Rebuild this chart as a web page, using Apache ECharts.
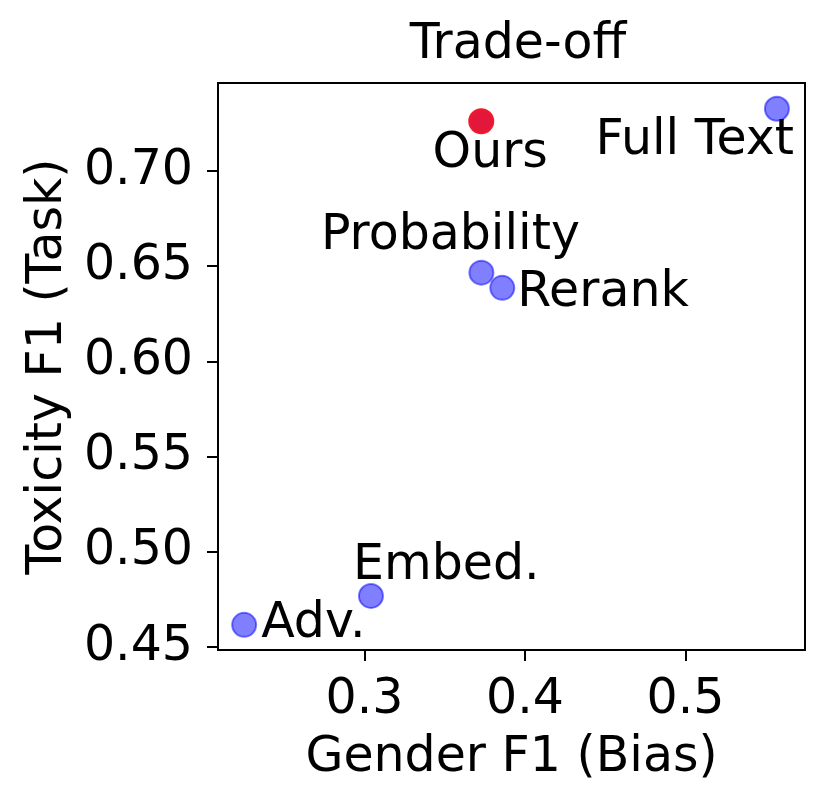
<!DOCTYPE html>
<html>
<head>
<meta charset="utf-8">
<script src="https://cdn.jsdelivr.net/npm/echarts@6/dist/echarts.min.js"></script>
<style>
  html, body { margin: 0; padding: 0; background: #fff; }
  #chart { width: 829px; height: 810px; }
</style>
</head>
<body>
<div id="chart"></div>
<script>
// values
var methods = ["Ours", "Full Text", "Probability", "Rerank", "Embed.", "Adv."];
var genderF1 = [0.3727, 0.5569, 0.3728, 0.3858, 0.3040, 0.2250];
var toxicityF1 = [0.7261, 0.7327, 0.6466, 0.6386, 0.4768, 0.4616];
var xTicks = [0.3, 0.4, 0.5];
var yTicks = [0.45, 0.50, 0.55, 0.60, 0.65, 0.70];

// where each annotation sits relative to its point
var labelPlace = {
  "Ours": { align: "center", offset: [9, 33] },
  "Full Text": { align: "right", offset: [17, 33] },
  "Probability": { align: "center", offset: [-31, -36] },
  "Rerank": { align: "left", offset: [15, 5] },
  "Embed.": { align: "left", offset: [-18, -30] },
  "Adv.": { align: "left", offset: [17, -1] },
};

var FONT = "DejaVu Sans";
var FS = 49;

function pointData(keep) {
  var out = [];
  methods.forEach(function (m, i) {
    if (!keep(m)) return;
    var p = labelPlace[m];
    out.push({
      name: m,
      value: [genderF1[i], toxicityF1[i]],
      label: { align: p.align, offset: p.offset },
    });
  });
  return out;
}

var labelStyle = {
  show: true,
  position: "inside",
  formatter: "{b}",
  color: "#000",
  fontFamily: FONT,
  fontSize: FS,
  verticalAlign: "middle",
};

var chart = echarts.init(document.getElementById("chart"), null, { renderer: "canvas" });
chart.setOption({
  animation: false,
  backgroundColor: "#fff",
  textStyle: { fontFamily: FONT },
  title: {
    text: "Trade-off",
    left: 513,
    textAlign: "center",
    top: 16,
    textStyle: { fontFamily: FONT, fontSize: FS, fontWeight: "normal", color: "#000" },
  },
  grid: {
    left: 218,
    top: 83,
    width: 587,
    height: 567,
    show: true,
    borderColor: "#000",
    borderWidth: 2,
    backgroundColor: "transparent",
  },
  xAxis: {
    type: "value",
    min: 0.2087,
    max: 0.5744,
    name: "Gender F1 (Bias)",
    nameLocation: "middle",
    nameGap: 84,
    nameTextStyle: { fontFamily: FONT, fontSize: FS, color: "#000" },
    axisLine: { show: true, lineStyle: { color: "#000", width: 2 } },
    axisTick: { show: true, length: 11, lineStyle: { color: "#000", width: 2 }, customValues: xTicks },
    axisLabel: {
      customValues: xTicks,
      margin: 26,
      color: "#000",
      fontFamily: FONT,
      fontSize: FS,
      formatter: function (v) { return v.toFixed(1); },
    },
    splitLine: { show: false },
  },
  yAxis: {
    type: "value",
    min: 0.4484,
    max: 0.7462,
    name: "Toxicity F1 (Task)",
    nameLocation: "middle",
    nameRotate: 90,
    nameGap: 142,
    nameTextStyle: { fontFamily: FONT, fontSize: FS, color: "#000" },
    axisLine: { show: true, lineStyle: { color: "#000", width: 2 } },
    axisTick: { show: true, length: 11, lineStyle: { color: "#000", width: 2 }, customValues: yTicks },
    axisLabel: {
      customValues: yTicks,
      margin: 25,
      color: "#000",
      fontFamily: FONT,
      fontSize: FS,
      formatter: function (v) { return v.toFixed(2); },
    },
    splitLine: { show: false },
  },
  series: [
    {
      type: "scatter",
      symbolSize: 24,
      data: pointData(function (m) { return m !== "Ours"; }),
      itemStyle: {
        color: "rgba(0,0,255,0.5)",
        borderColor: "rgba(0,0,255,0.5)",
        borderWidth: 2,
        opacity: 1,
      },
      label: labelStyle,
    },
    {
      type: "scatter",
      symbolSize: 24,
      data: pointData(function (m) { return m === "Ours"; }),
      itemStyle: {
        color: "#e3173c",
        borderColor: "#f21a2a",
        borderWidth: 2,
        opacity: 1,
      },
      label: labelStyle,
    },
  ],
});
</script>
</body>
</html>
